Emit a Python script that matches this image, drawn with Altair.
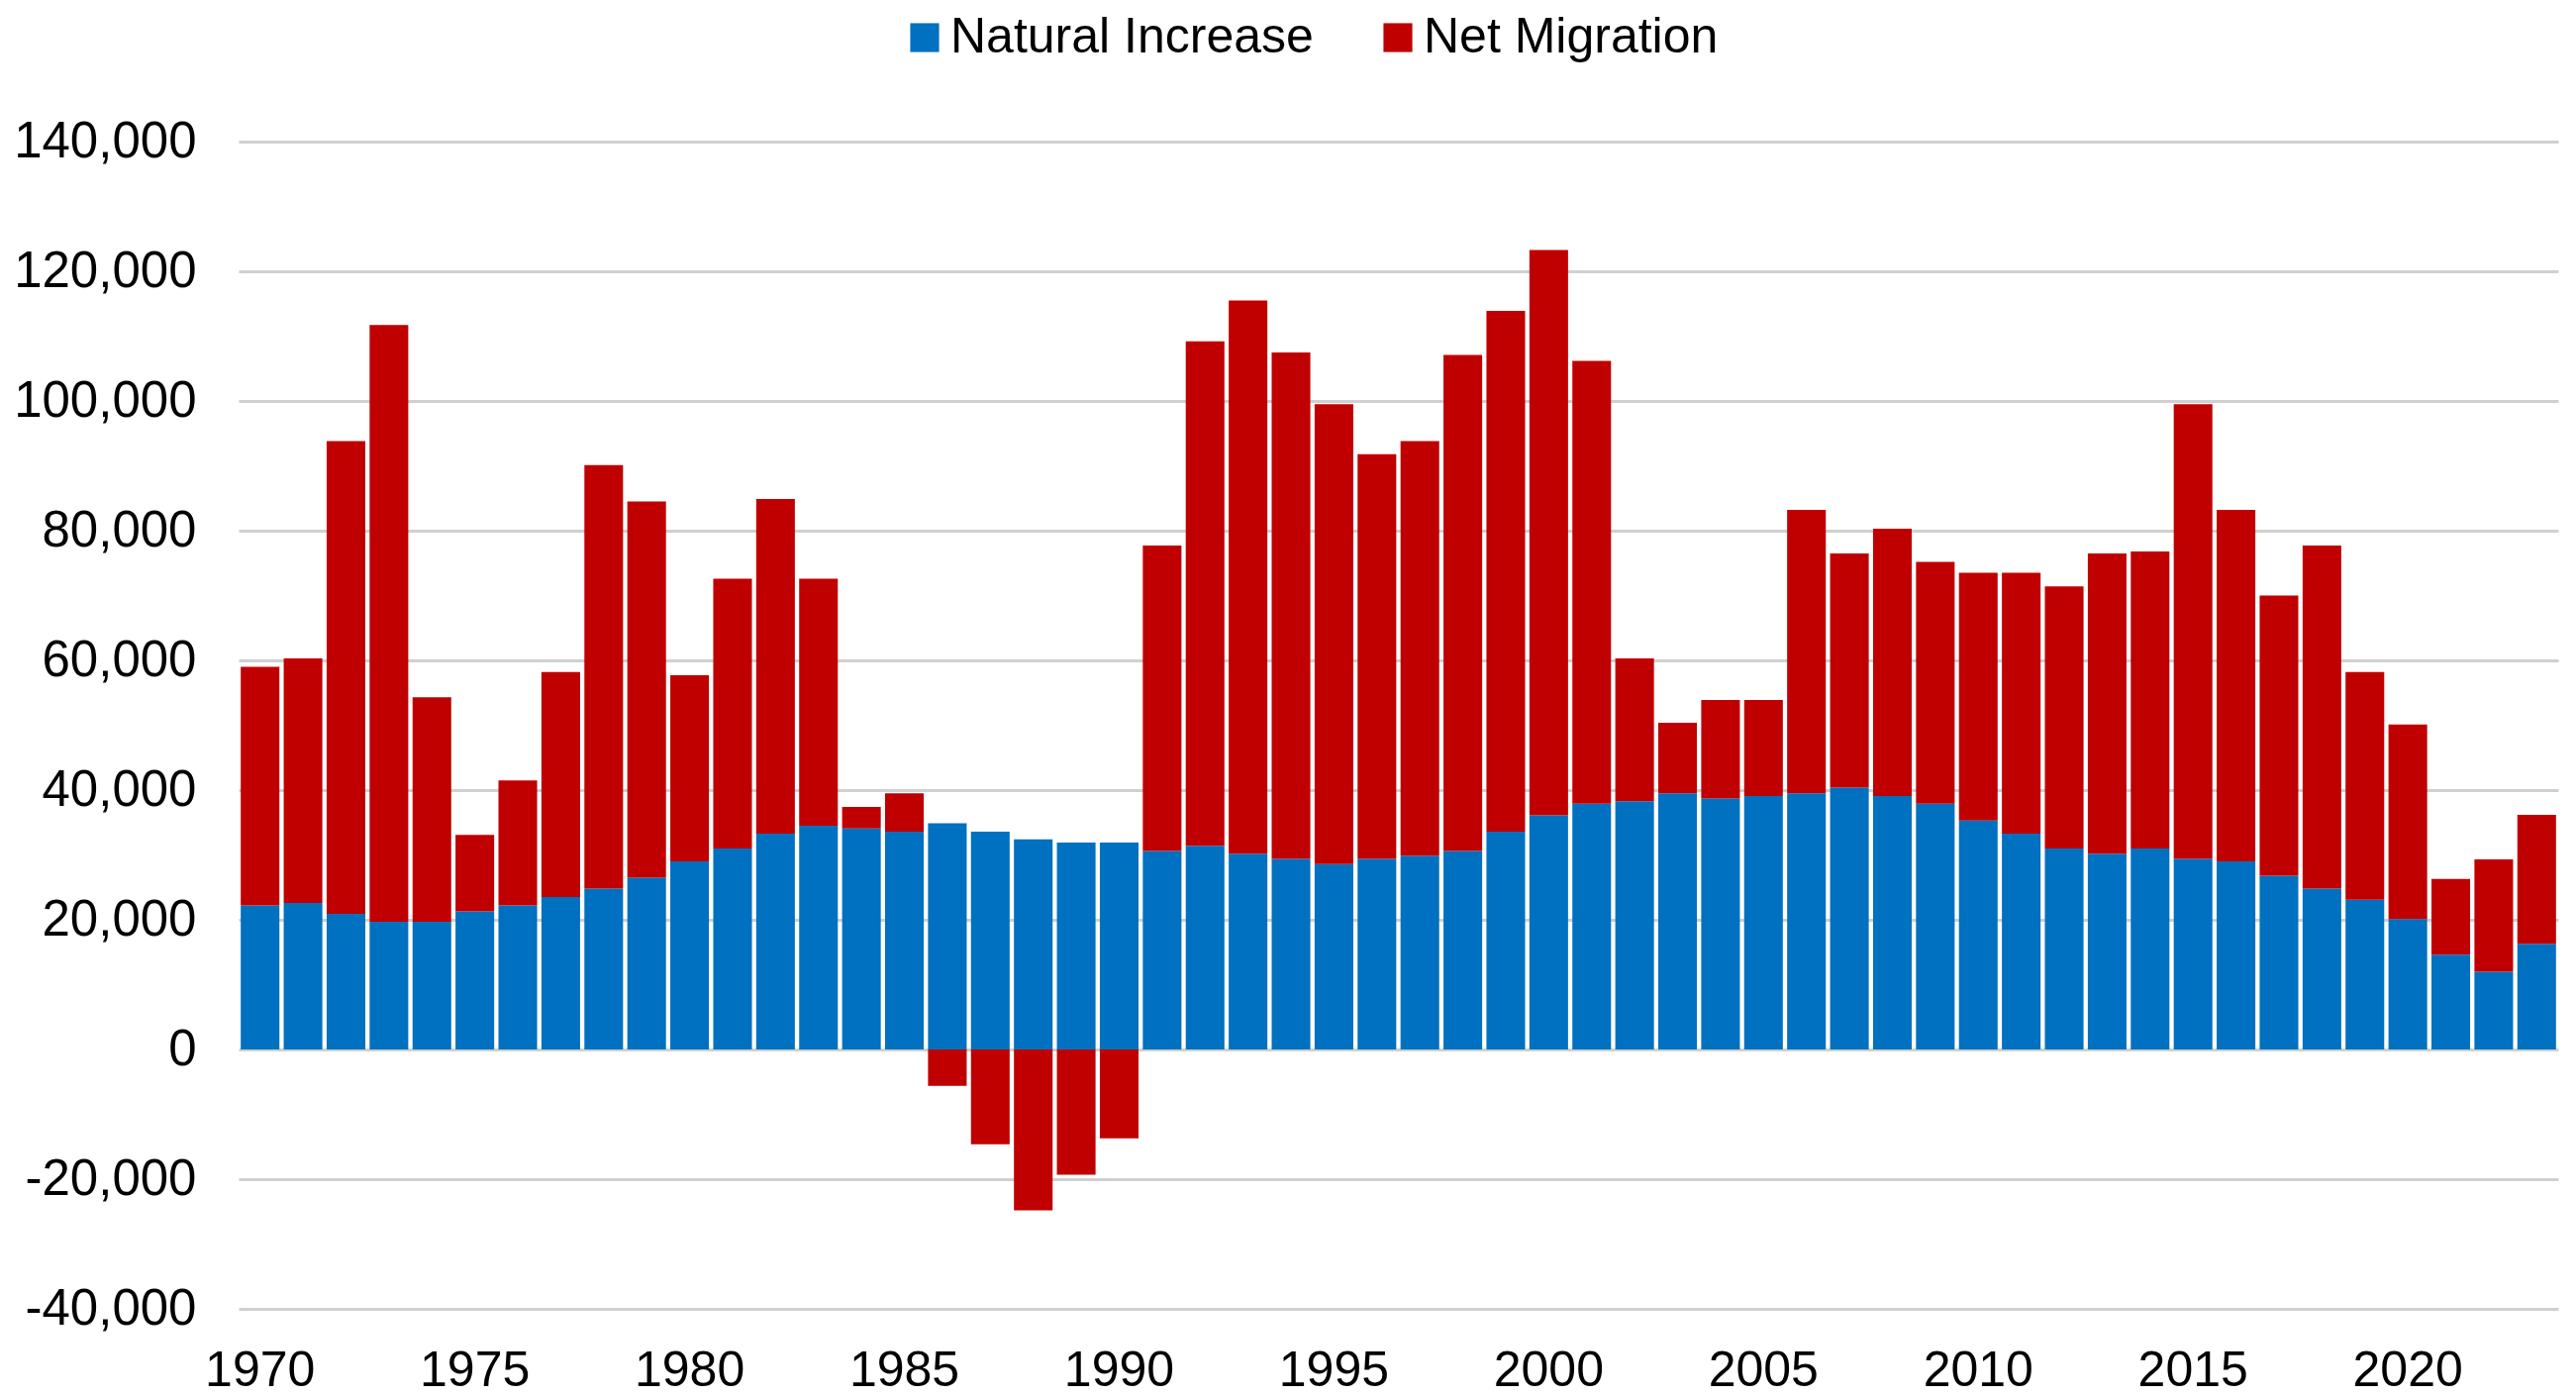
import altair as alt
import pandas as pd

years = list(range(1970, 2024))

natural_increase = [
    22.2, 22.6, 20.9, 19.7, 19.7, 21.3, 22.2, 23.5, 24.8, 26.5,
    29.0, 31.0, 33.3, 34.5, 34.1, 33.6, 34.9, 33.6, 32.4, 31.9,
    31.9, 30.6, 31.4, 30.2, 29.4, 28.6, 29.4, 29.9, 30.6, 33.6,
    36.1, 37.9, 38.3, 39.5, 38.7, 39.1, 39.5, 40.4, 39.1, 37.9,
    35.3, 33.3, 31.0, 30.2, 31.0, 29.4, 29.0, 26.8, 24.8, 23.1,
    20.1, 14.6, 12.0, 16.3,
]

net_migration = [
    36.8, 37.7, 72.9, 92.0, 34.6, 11.8, 19.3, 34.7, 65.3, 58.0,
    28.7, 41.6, 51.6, 38.1, 3.3, 5.9, -5.6, -14.6, -24.8, -19.3,
    -13.7, 47.1, 77.8, 85.3, 78.1, 70.9, 62.4, 63.9, 76.5, 80.3,
    87.2, 68.3, 22.0, 10.9, 15.2, 14.8, 43.7, 36.1, 41.2, 37.3,
    38.2, 40.2, 40.4, 46.3, 45.8, 70.1, 54.2, 43.2, 52.9, 35.1,
    30.0, 11.7, 17.3, 19.9,
]

series_names = ["Natural Increase", "Net Migration"]
series_colors = ["#0070C0", "#C00000"]
x_tick_years = list(range(1970, 2021, 5))
y_ticks = list(range(-40000, 140001, 20000))

rows = []
for y, ni, nm in zip(years, natural_increase, net_migration):
    rows.append({"year": y, "series": series_names[0], "value": ni * 1000, "order": 0})
    rows.append({"year": y, "series": series_names[1], "value": nm * 1000, "order": 1})
df = pd.DataFrame(rows)

FONT = "Liberation Sans"

chart = alt.Chart(df).mark_bar().encode(
    x=alt.X(
        "year:O",
        title=None,
        scale=alt.Scale(paddingInner=0.1, paddingOuter=0.05),
        axis=alt.Axis(
            values=x_tick_years,
            labelAngle=0,
            labelFontSize=50,
            labelFont=FONT,
            labelColor="#000000",
            labelPadding=37,
            labelLimit=400,
            ticks=False,
            domain=False,
            grid=False,
        ),
    ),
    y=alt.Y(
        "value:Q",
        title=None,
        stack="zero",
        scale=alt.Scale(domain=[-40000, 140000], nice=False),
        axis=alt.Axis(
            values=y_ticks,
            labelExpr="(datum.value < 0 ? '-' : '') + format(abs(datum.value), ',')",
            labelFontSize=51,
            labelFont=FONT,
            labelColor="#000000",
            labelPadding=43,
            labelLimit=400,
            ticks=False,
            domain=False,
            grid=True,
            gridColor="#d0d0d0",
            gridWidth=3,
        ),
    ),
    color=alt.Color(
        "series:N",
        scale=alt.Scale(domain=series_names, range=series_colors),
        legend=alt.Legend(
            title=None,
            orient="none",
            legendX=668,
            legendY=-130,
            direction="horizontal",
            symbolType="square",
            symbolSize=850,
            symbolStrokeWidth=0,
            labelFontSize=50,
            labelFont=FONT,
            labelColor="#000000",
            labelOffset=1,
            labelLimit=600,
            columnPadding=60,
            padding=0,
        ),
    ),
    order=alt.Order("order:Q", sort="ascending"),
).properties(
    width=2343,
    height=1179,
    autosize=alt.AutoSizeParams(type="none"),
    padding={"left": 233, "top": 135, "right": 10, "bottom": 88},
    background="white",
).configure_view(stroke=None, strokeWidth=0)

chart.save("out.html", embed_options={"renderer": "svg", "actions": False})
